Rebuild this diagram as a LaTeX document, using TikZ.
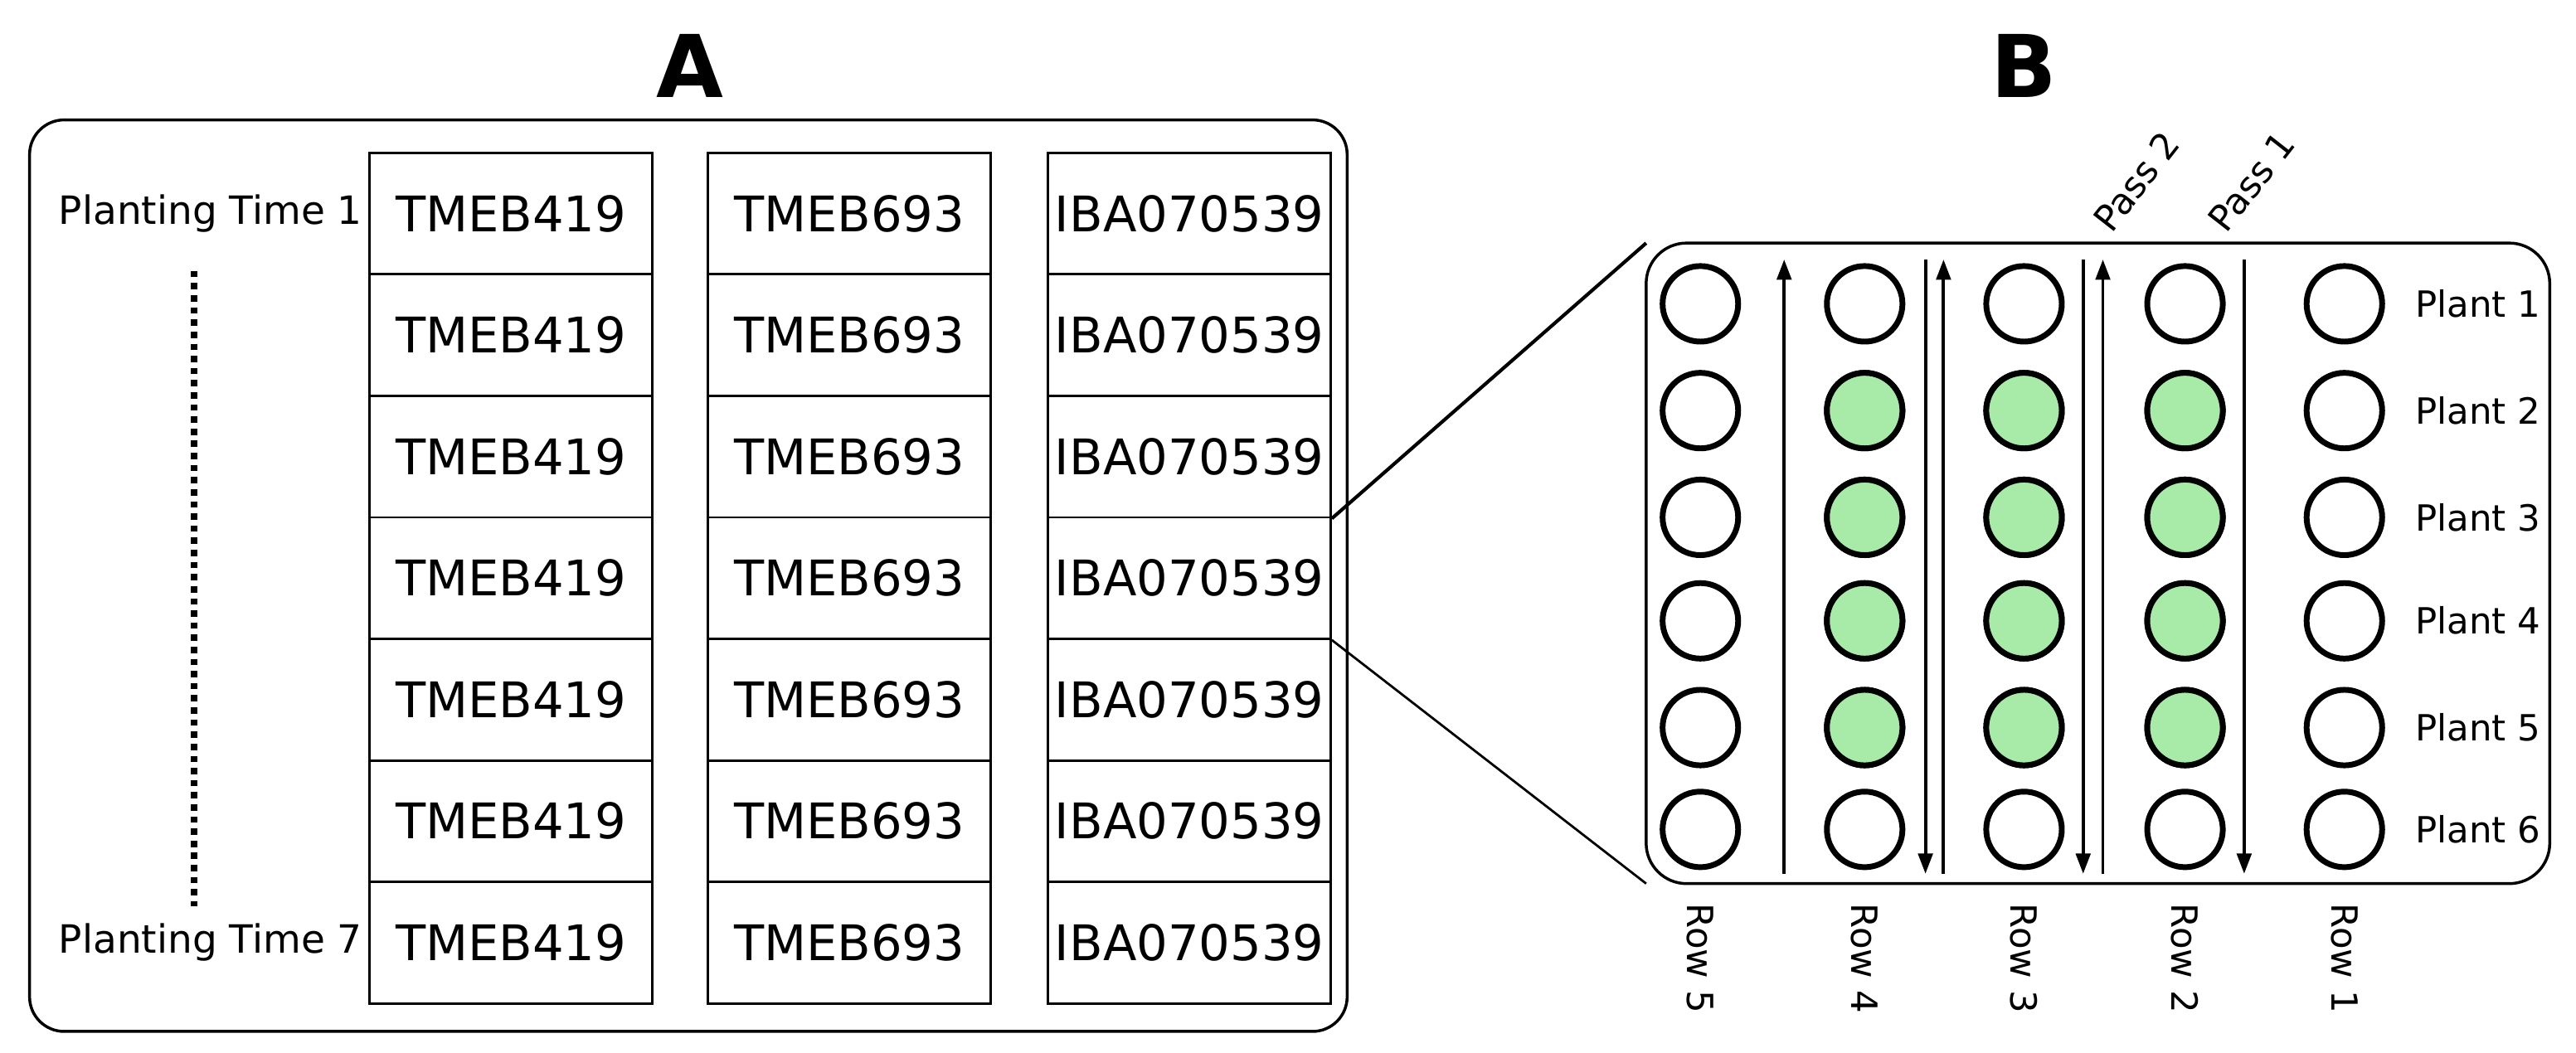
\documentclass[tikz,border=0pt]{standalone}
\usepackage{fontspec}
\setmainfont{DejaVu Sans}
\usetikzlibrary{arrows.meta, positioning}

\begin{document}
\begin{tikzpicture}[
    x=0.02cm, y=-0.02cm,
    plot/.style={draw, line width=0.8pt, minimum width=3.44cm, minimum height=1.48cm, inner sep=0pt, font=\fontsize{17}{20}\selectfont},
    plant/.style={circle, draw, line width=2pt, minimum size=0.92cm, inner sep=0pt},
    hit/.style={plant, fill={rgb,255:red,168;green,235;blue,168}},
    lab/.style={font=\fontsize{12.5}{15}\selectfont},
    title/.style={font=\fontsize{30}{34}\bfseries\selectfont},
    >={Triangle[length=7pt, width=5pt]}
]
\useasboundingbox (0,0) rectangle (1568,641);

% Titles
\node[title] (tA) at (420,40) {A};
\node[title] (tB) at (1232,40) {B};

% Panel A
\draw[rounded corners=12pt, line width=1pt] (18,73) rectangle (820,628);
\foreach \cx/\name/\col in {311/TMEB419/a, 517/TMEB693/b, 724/IBA070539/c} {
  \foreach \r in {1,...,7} {
    \node[plot] (p\col\r) at (\cx, {93+74*(\r-0.5)}) {\name};
  }
}
\node[lab, anchor=east, font=\fontsize{13.5}{16}\selectfont, inner sep=2pt] (t1) at (pa1.west) {Planting Time 1};
\node[lab, anchor=east, font=\fontsize{13.5}{16}\selectfont, inner sep=2pt] (t7) at (pa7.west) {Planting Time 7};
\draw[line width=2.2pt, dotted] (118,165) -- (118,552);

% Panel B
\draw[rounded corners=14pt, line width=1pt] (1002,148) rectangle (1552,538);
\foreach \x/\r in {1035/5, 1135/4, 1232/3, 1330/2, 1427/1} {
  \foreach \y/\p in {185/1, 250/2, 315/3, 378/4, 443/5, 505/6} {
    \node[plant] (c\r\p) at (\x,\y) {};
  }
  \node[lab, rotate=-90, anchor=west] (row\r) at (\x,544) {Row \r};
}
\foreach \r in {2,3,4} {
  \foreach \p in {2,...,5} {
    \node[hit] at (c\r\p) {};
  }
}
\foreach \y/\p in {185/1, 250/2, 315/3, 378/4, 443/5, 505/6} {
  \node[lab, anchor=west] (pl\p) at (1464,\y) {Plant \p};
}

% Passes
\foreach \xu/\xd/\n in {1086/1172/4, 1183/1268/3, 1280/1366/2} {
  \coordinate (ub\n) at (\xu,532);
  \coordinate (ut\n) at (\xu,158);
  \coordinate (dt\n) at (\xd,158);
  \coordinate (db\n) at (\xd,532);
  \draw[->, line width=1.1pt] (ub\n) -- (ut\n);
  \draw[->, line width=1.1pt] (dt\n) -- (db\n);
}
\node[lab, rotate=52, anchor=south west, inner sep=1pt] (pass2) at (1286,146) {Pass 2};
\node[lab, rotate=52, anchor=south west, inner sep=1pt] (pass1) at (1356,146) {Pass 1};

% Zoom lines
\draw[line width=1.2pt] (pc3.south east) -- (1002,148);
\draw[line width=0.8pt] (pc4.south east) -- (1002,538);
\end{tikzpicture}
\end{document}
